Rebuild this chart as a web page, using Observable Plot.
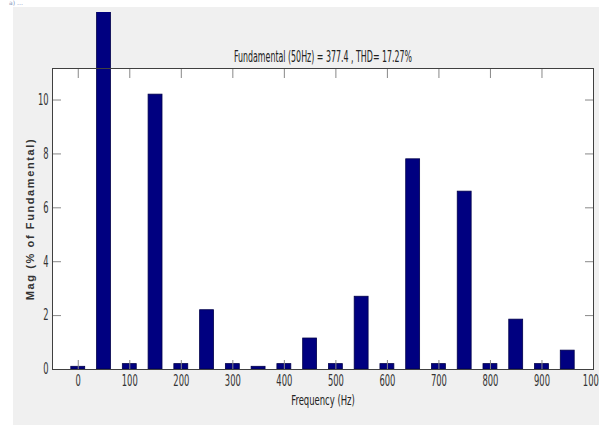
<!DOCTYPE html>
<html><head><meta charset="utf-8">
<script src="https://cdn.jsdelivr.net/npm/d3@7"></script>
<script src="https://cdn.jsdelivr.net/npm/@observablehq/plot@0.6"></script>
<style>
html,body{margin:0;padding:0;background:#fff;width:599px;height:425px;overflow:hidden;position:relative;}
#fig{position:absolute;left:13px;top:7px;width:586px;height:418px;background:#f0f0f0;}
#chart{position:absolute;left:13px;top:12px;}
#tag{position:absolute;left:9px;top:0px;font:6px/6px "DejaVu Sans",sans-serif;color:#8090b8;}
</style></head><body>
<div id="tag">a) …</div>
<div id="fig"></div>
<div id="chart"></div>
<script>
// Harmonic spectrum (Hz) and magnitude (% of fundamental)
const freqs = [0, 50, 100, 150, 200, 250, 300, 350, 400, 450, 500, 550, 600, 650, 700, 750, 800, 850, 900, 950];
const mags  = [0.1, 100, 0.2, 10.2, 0.2, 2.2, 0.2, 0.1, 0.2, 1.15, 0.2, 2.7, 0.2, 7.8, 0.2, 6.6, 0.2, 1.85, 0.2, 0.7];
const xTicks = [0, 100, 200, 300, 400, 500, 600, 700, 800, 900, 1000];
const yTicks = [0, 2, 4, 6, 8, 10];
const titleText = "Fundamental (50Hz) = 377.4 , THD= 17.27%";
const xLabel = "Frequency (Hz)";
const yLabel = "Mag (% of Fundamental)";

const data = freqs.map((f, i) => ({f, m: mags[i]}));
const halfWidth = 13.5;
const narrow = '"Liberation Sans Narrow", "DejaVu Sans Condensed", "Arial Narrow", sans-serif';

const plot = Plot.plot({
  width: 586, height: 408,
  marginLeft: 39, marginRight: 6, marginTop: 56, marginBottom: 51,
  style: {background: "transparent", overflow: "hidden", fontFamily: narrow, fontSize: "15px", color: "#333"},
  x: {domain: [-50, 1000]},
  y: {domain: [0, 11.17]},
  marks: [
    Plot.frame({fill: "white"}),
    Plot.rectY(data, {x1: d => d.f - halfWidth, x2: d => d.f + halfWidth, y: "m", fill: "#000080", stroke: "#00004a", strokeWidth: 0.8}),
    Plot.axisX({anchor: "bottom", ticks: xTicks, tickSize: -9, tickFormat: () => "", label: null, stroke: "#888"}),
    Plot.axisX({anchor: "bottom", ticks: xTicks, tickSize: 0, tickPadding: 6, tickFormat: d3.format("d"), label: null, fill: "#333"}),
    Plot.axisX({anchor: "top", ticks: xTicks, tickSize: -9, tickFormat: () => "", label: null, stroke: "#888"}),
    Plot.axisY({anchor: "left", ticks: yTicks, tickSize: -9, tickFormat: () => "", label: null, stroke: "#888"}),
    Plot.axisY({anchor: "left", ticks: yTicks, tickSize: 0, tickPadding: 4, label: null, fill: "#333"}),
    Plot.axisY({anchor: "right", ticks: yTicks, tickSize: -9, tickFormat: () => "", label: null, stroke: "#888"}),
    Plot.frame({stroke: "#404040"}),
    Plot.text([titleText], {frameAnchor: "top", dy: -17, fill: "#222", fontSize: 15}),
    Plot.text([xLabel], {frameAnchor: "bottom", dy: 35, fill: "#222", fontSize: 14}),
    Plot.text([yLabel], {frameAnchor: "left", dx: -22, rotate: -90, textAnchor: "middle", fill: "#333", fontSize: 11, fontWeight: "bold", fontFamily: '"Liberation Sans", Arial, sans-serif'})
  ]
});
document.getElementById("chart").append(plot);
plot.querySelectorAll("text").forEach(t => {
  const s = t.textContent;
  if (s === yLabel) { t.style.letterSpacing = "1.6px"; return; }
  const k = s === titleText ? 0.585 : s === xLabel ? 0.67 : 0.62;
  const w = t.getComputedTextLength();
  if (w > 0) { t.setAttribute("textLength", (w * k).toFixed(1)); t.setAttribute("lengthAdjust", "spacingAndGlyphs"); }
});
</script>
</body></html>
